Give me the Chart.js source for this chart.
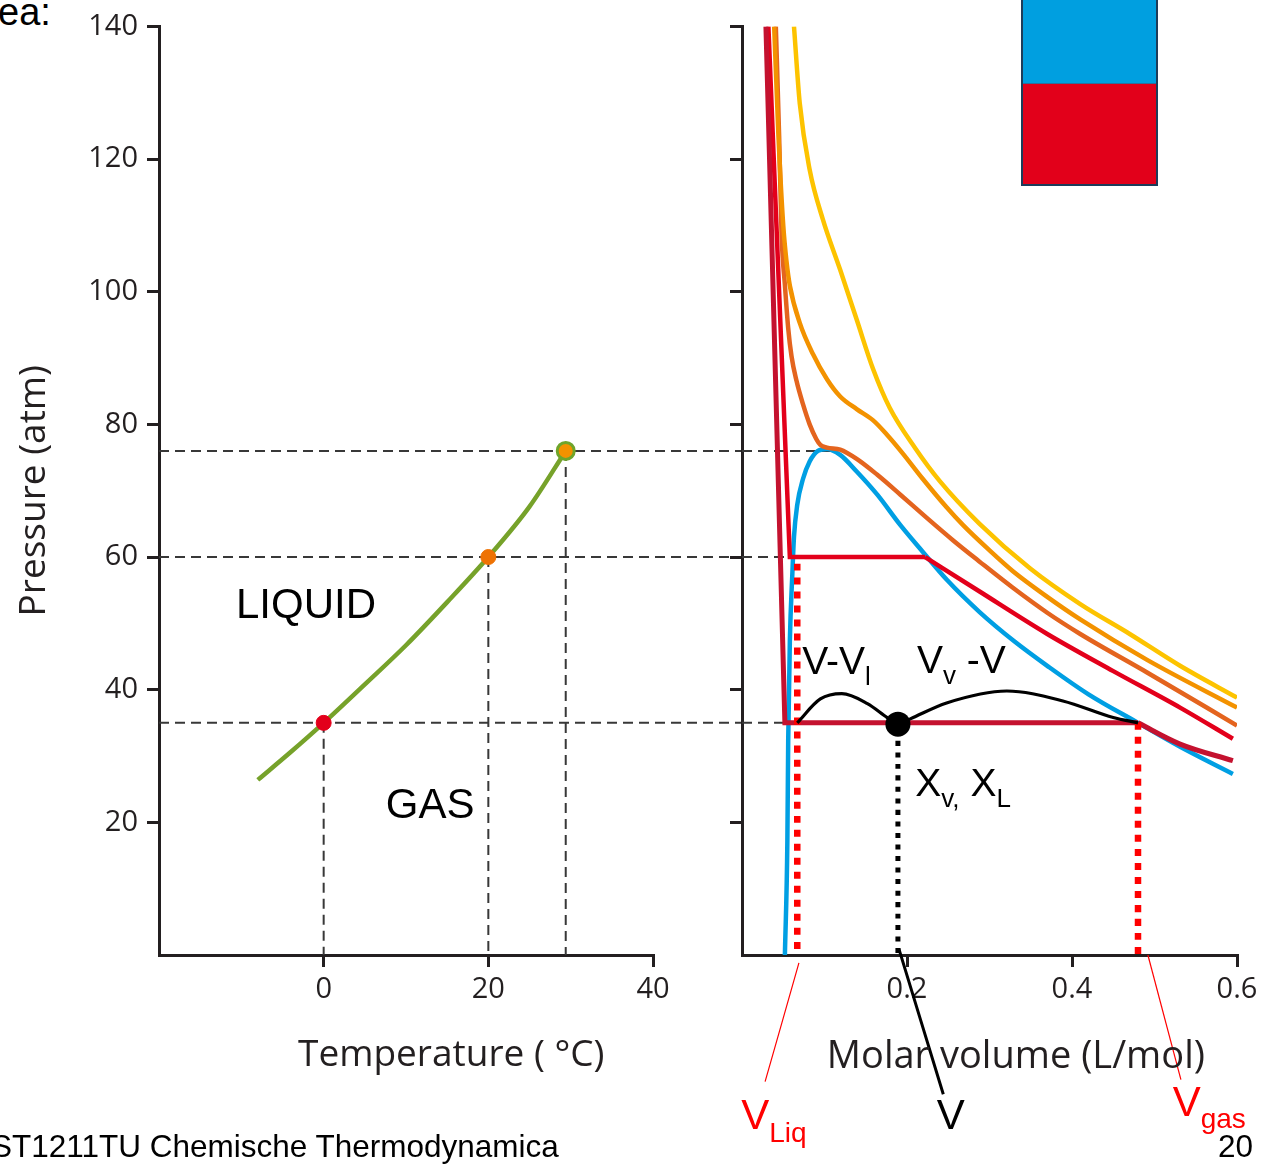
<!DOCTYPE html>
<html>
<head>
<meta charset="utf-8">
<script src="https://cdn.jsdelivr.net/npm/chart.js@4.4.1/dist/chart.umd.min.js"></script>
<style>
  html, body { margin: 0; padding: 0; background: #fff; }
  body { width: 1278px; height: 1164px; position: relative; overflow: hidden; font-family: "Liberation Sans", Arial, sans-serif; }
  canvas { position: absolute; top: 0; }
  #left { left: 0; }
  #right { left: 700px; }
  .txt { position: absolute; line-height: 1; white-space: nowrap; color: #000; }
  #box { position: absolute; left: 1021px; top: -3px; width: 137px; height: 189px; box-sizing: border-box;
         border: 2px solid #1D3C5A; background: #E2001A; }
  #box .top { position: absolute; left: 0; right: 0; top: 0; height: 84px; background: #009FE0; border-bottom: 1px solid #2F6E9C; }
</style>
</head>
<body>
<div class="txt" style="left:-2px; top:-7px; font-size:38px;">ea:</div>
<div id="box"><div class="top"></div></div>
<canvas id="left" width="742" height="1164"></canvas>
<canvas id="right" width="578" height="1164"></canvas>
<div class="txt" style="left:-9px; top:1131px; font-size:31.5px;">ST1211TU Chemische Thermodynamica</div>
<div class="txt" style="left:1218px; top:1131px; font-size:31.5px;">20</div>
<script>
// ---------- left panel: vapour pressure curve (P vs T)
const tempC    = [-8, -4, 0, 5, 10, 15, 20, 25, 29.4];
const pressAtm = [26.4, 30.6, 35, 40.8, 46.7, 53.2, 60, 67.6, 76];
const markTemp  = [0, 20, 29.4];
const markPress = [35, 60, 76];
const markFill   = ['#E3001B', '#EE7203', '#F39200'];
const markBorder = ['#E3001B', '#EE7203', '#6FA52B'];

// dashed guide levels (shared by both panels)
const guidePress = [35, 60, 76];
const guideTemp  = [0, 20, 29.4];
const guideEndV  = [0.052, 0.058, 0.11];   // where the guide stops in the right panel

// ---------- right panel: isotherms (P vs molar volume)
const yellowV = [0.063, 0.070, 0.082, 0.098, 0.119, 0.139, 0.159, 0.179, 0.210, 0.240, 0.288, 0.349, 0.410, 0.470, 0.531, 0.600];
const yellowP = [140, 128.4, 118.4, 110.9, 103.3, 95.8, 88.3, 82.5, 76.4, 71.4, 65.0, 58.3, 52.9, 48.4, 43.6, 38.8];

const orangeV = [0.039, 0.044, 0.050, 0.054, 0.058, 0.070, 0.086, 0.103, 0.119, 0.139, 0.159, 0.176, 0.195, 0.219, 0.248, 0.268, 0.300, 0.328, 0.370, 0.410, 0.491, 0.600];
const orangeP = [140, 124, 110, 104.5, 100.9, 95.3, 90.6, 86.8, 84.2, 82.3, 80.6, 78.4, 75.6, 71.8, 67.5, 64.8, 61.0, 57.9, 54.0, 50.6, 44.5, 37.3];

const critV = [0.041, 0.045, 0.048, 0.052, 0.056, 0.060, 0.066, 0.074, 0.082, 0.090, 0.095, 0.103, 0.119, 0.139, 0.164, 0.192, 0.224, 0.256, 0.288, 0.328, 0.370, 0.410, 0.491, 0.600];
const critP = [140, 123.5, 108.5, 101.0, 94.5, 90.3, 86.6, 83.0, 80.0, 77.8, 76.9, 76.5, 76.2, 74.8, 72.4, 69.4, 65.9, 62.5, 59.3, 55.4, 51.6, 48.4, 42.6, 34.6];

const domeV = [0.052, 0.055, 0.056, 0.058, 0.061, 0.063, 0.067, 0.074, 0.082, 0.092, 0.103, 0.119, 0.139, 0.164, 0.192, 0.219, 0.248, 0.288, 0.330, 0.370, 0.420, 0.480, 0.531, 0.595];
const domeP = [0, 17.3, 32.3, 47.3, 57.4, 63.0, 67.9, 71.8, 74.4, 76.0, 76.3, 75.4, 72.9, 69.4, 64.8, 60.8, 56.6, 51.7, 47.3, 43.6, 39.3, 35.0, 31.4, 27.3];

const red60LiqV = [0.032, 0.058, 0.222];
const red60LiqP = [140, 60, 60];
const red60GasV = [0.222, 0.288, 0.370, 0.450, 0.531, 0.595];
const red60GasP = [60, 54.8, 48.4, 42.8, 37.3, 32.6];

const red35LiqV = [0.029, 0.052, 0.480];
const red35LiqP = [140, 35, 35];
const red35GasV = [0.480, 0.531, 0.595];
const red35GasP = [35, 31.8, 29.3];

// lever-rule arcs and the state point
const leverAV = [0.067, 0.095, 0.121, 0.152, 0.176, 0.189];
const leverAP = [35.0, 38.6, 39.4, 37.9, 35.8, 34.8];
const leverBV = [0.189, 0.204, 0.248, 0.321, 0.389, 0.450, 0.480];
const leverBP = [34.8, 35.6, 38.0, 39.8, 38.3, 35.8, 35.0];
const stateV = 0.189, stateP = 34.8;
const vLiq = 0.067, vGas = 0.480;

// pointer lines below the axis (data units, P < 0 lies under the axis)
const ptrLiqV = [0.069, 0.028], ptrLiqP = [-1.2, -19.1];
const ptrVV   = [0.190, 0.244], ptrVP   = [1, -21.0];
const ptrGasV = [0.492, 0.532], ptrGasP = [0, -18.8];

const axisColor = '#231F20';
const guideColor = '#383838';
const openSans = "'Open Sans', 'Noto Sans', sans-serif";
const arial = "'Liberation Sans', Arial, sans-serif";

const leftLabels = [
  { x: -10.65, y: 50.8, parts: [['LIQUID', 0]], size: 42 },
  { x: 7.55, y: 20.7, parts: [['GAS', 0]], size: 42 },
  { x: 15.5, y: -16.8, parts: [['Temperature ( °C)', 0]], size: 37, family: openSans, color: axisColor, align: 'center' }
];
const rightLabels = [
  { x: 0.073, y: 42.4, parts: [['V-V', 0], ['l', 1]], size: 39 },
  { x: 0.212, y: 42.5, parts: [['V', 0], ['v', 1], [' -V', 0]], size: 39 },
  { x: 0.210, y: 24.0, parts: [['X', 0], ['v,', 1], [' X', 0], ['L', 1]], size: 39 },
  { x: -0.001, y: -26.3, parts: [['V', 0], ['Liq', 1]], size: 42, color: '#FF0000' },
  { x: 0.236, y: -26.3, parts: [['V', 0]], size: 42 },
  { x: 0.522, y: -24.3, parts: [['V', 0], ['gas', 1]], size: 42, color: '#FF0000' },
  { x: 0.332, y: -17.0, parts: [['Molar volume (L/mol)', 0]], size: 38, family: openSans, color: axisColor, align: 'center' }
];

const xy = (xs, ys) => xs.map((x, i) => ({ x: x, y: ys[i] }));

function line(xs, ys, color, width, extra) {
    return Object.assign({
        data: xy(xs, ys),
        showLine: true,
        borderColor: color,
        backgroundColor: color,
        borderWidth: width,
        pointRadius: 0,
        fill: false,
        cubicInterpolationMode: 'monotone'
    }, extra || {});
}

function makeScale(min, max, step, fmt, horizontal, size) {
    return {
        type: 'linear',
        min: min,
        max: max,
        ticks: {
            stepSize: step, color: axisColor, padding: horizontal ? 5 : 9,
            font: { family: openSans, size: 29 }, callback: fmt, maxRotation: 0, autoSkip: false
        },
        grid: {
            display: true, drawOnChartArea: false, drawTicks: true, tickLength: 12,
            tickWidth: 3, tickColor: axisColor, color: axisColor, lineWidth: 3
        },
        border: { display: true, color: axisColor, width: 3 },
        afterBuildTicks: s => { s.ticks = s.ticks.filter(t => Math.abs(t.value - min) > 1e-9); },
        afterFit: s => { if (horizontal) s.height = size; else s.width = size; }
    };
}

function drawLabels(chart, list) {
    const { ctx, scales: { x, y } } = chart;
    ctx.save();
    ctx.textBaseline = 'alphabetic';
    ctx.textAlign = 'left';
    list.forEach(l => {
        const fam = l.family || arial;
        const sub = Math.round(l.size * 0.66);
        const fontOf = p => (p[1] ? sub : l.size) + 'px ' + fam;
        let w = 0;
        l.parts.forEach(p => { ctx.font = fontOf(p); w += ctx.measureText(p[0]).width; });
        let cx = x.getPixelForValue(l.x) - (l.align === 'center' ? w / 2 : 0);
        const by = y.getPixelForValue(l.y);
        ctx.fillStyle = l.color || '#000';
        l.parts.forEach(p => {
            ctx.font = fontOf(p);
            ctx.fillText(p[0], cx, by + (p[1] ? l.size * 0.29 : 0));
            cx += ctx.measureText(p[0]).width;
        });
    });
    ctx.restore();
}

const leftDecor = {
    id: 'leftDecor',
    beforeDatasetsDraw(chart) {
        const { ctx, chartArea, scales: { x, y } } = chart;
        ctx.save();
        ctx.strokeStyle = guideColor;
        ctx.lineWidth = 2;
        ctx.setLineDash([10, 6]);
        guidePress.forEach(p => {
            const py = y.getPixelForValue(p);
            ctx.beginPath(); ctx.moveTo(chartArea.left, py); ctx.lineTo(chart.width, py); ctx.stroke();
        });
        guideTemp.forEach((t, i) => {
            const px = x.getPixelForValue(t);
            ctx.beginPath(); ctx.moveTo(px, y.getPixelForValue(guidePress[i])); ctx.lineTo(px, chartArea.bottom); ctx.stroke();
        });
        ctx.restore();
    },
    afterDraw(chart) { drawLabels(chart, leftLabels); }
};

const rightDecor = {
    id: 'rightDecor',
    afterDraw(chart) { drawLabels(chart, rightLabels); }
};

new Chart(document.getElementById('left'), {
    type: 'scatter',
    data: {
        datasets: [
            {
                data: xy(markTemp, markPress),
                pointRadius: [7.5, 7.5, 8.5],
                pointBackgroundColor: markFill,
                pointBorderColor: markBorder,
                pointBorderWidth: [1, 1, 3]
            },
            line(tempC, pressAtm, '#76A22A', 4.5)
        ]
    },
    options: {
        responsive: false,
        animation: false,
        devicePixelRatio: 1,
        layout: { padding: { left: 0, top: 23, right: 89, bottom: 87 } },
        plugins: { legend: { display: false }, tooltip: { enabled: false } },
        scales: {
            x: makeScale(-20, 40, 20, v => String(v), true, 122),
            y: Object.assign(makeScale(0, 140, 20, v => String(v), false, 159), {
                title: { display: true, text: 'Pressure (atm)', color: axisColor,
                         font: { family: openSans, size: 37 }, padding: { top: 12, bottom: 0 } }
            })
        }
    },
    plugins: [leftDecor]
});

const guideSets = guidePress.map((p, i) =>
    line([0, guideEndV[i]], [p, p], guideColor, 2, { borderDash: [10, 6], cubicInterpolationMode: 'default', tension: 0 }));

new Chart(document.getElementById('right'), {
    type: 'scatter',
    data: {
        datasets: [
            { data: [{ x: stateV, y: stateP }], pointRadius: 12.5, pointBackgroundColor: '#000', pointBorderWidth: 0 },
            line(leverAV, leverAP, '#000', 3.2),
            line(leverBV, leverBP, '#000', 3.2),
            line([stateV, stateV], [34, 0], '#000', 5, { borderDash: [5, 6.5] }),
            line([vLiq, vLiq], [59, 0], '#FF0000', 6.5, { borderDash: [7, 7] }),
            line([vGas, vGas], [35, 0], '#FF0000', 6.5, { borderDash: [7, 7] }),
            line(ptrLiqV, ptrLiqP, '#FF0000', 1.2, { clip: false }),
            line(ptrVV, ptrVP, '#000', 3, { clip: false }),
            line(ptrGasV, ptrGasP, '#FF0000', 1.2, { clip: false }),
            line(red35LiqV, red35LiqP, '#C4122F', 5, { cubicInterpolationMode: 'default', tension: 0 }),
            line(red35GasV, red35GasP, '#C4122F', 5),
            line(red60LiqV, red60LiqP, '#E3001B', 4.5, { cubicInterpolationMode: 'default', tension: 0 }),
            line(red60GasV, red60GasP, '#E3001B', 4.5),
            line(yellowV, yellowP, '#FDC300', 4.5),
            line(orangeV, orangeP, '#F39200', 4.5),
            line(critV, critP, '#E4641E', 4.5),
            line(domeV, domeP, '#009FE3', 4.5)
        ].concat(guideSets)
    },
    options: {
        responsive: false,
        animation: false,
        devicePixelRatio: 1,
        layout: { padding: { left: 0, top: 23, right: 41, bottom: 87 } },
        plugins: { legend: { display: false }, tooltip: { enabled: false } },
        scales: {
            x: makeScale(0, 0.6, 0.2, v => Number(v).toFixed(1), true, 122),
            y: makeScale(0, 140, 20, () => '', false, 42)
        }
    },
    plugins: [rightDecor]
});
</script>
</body>
</html>
